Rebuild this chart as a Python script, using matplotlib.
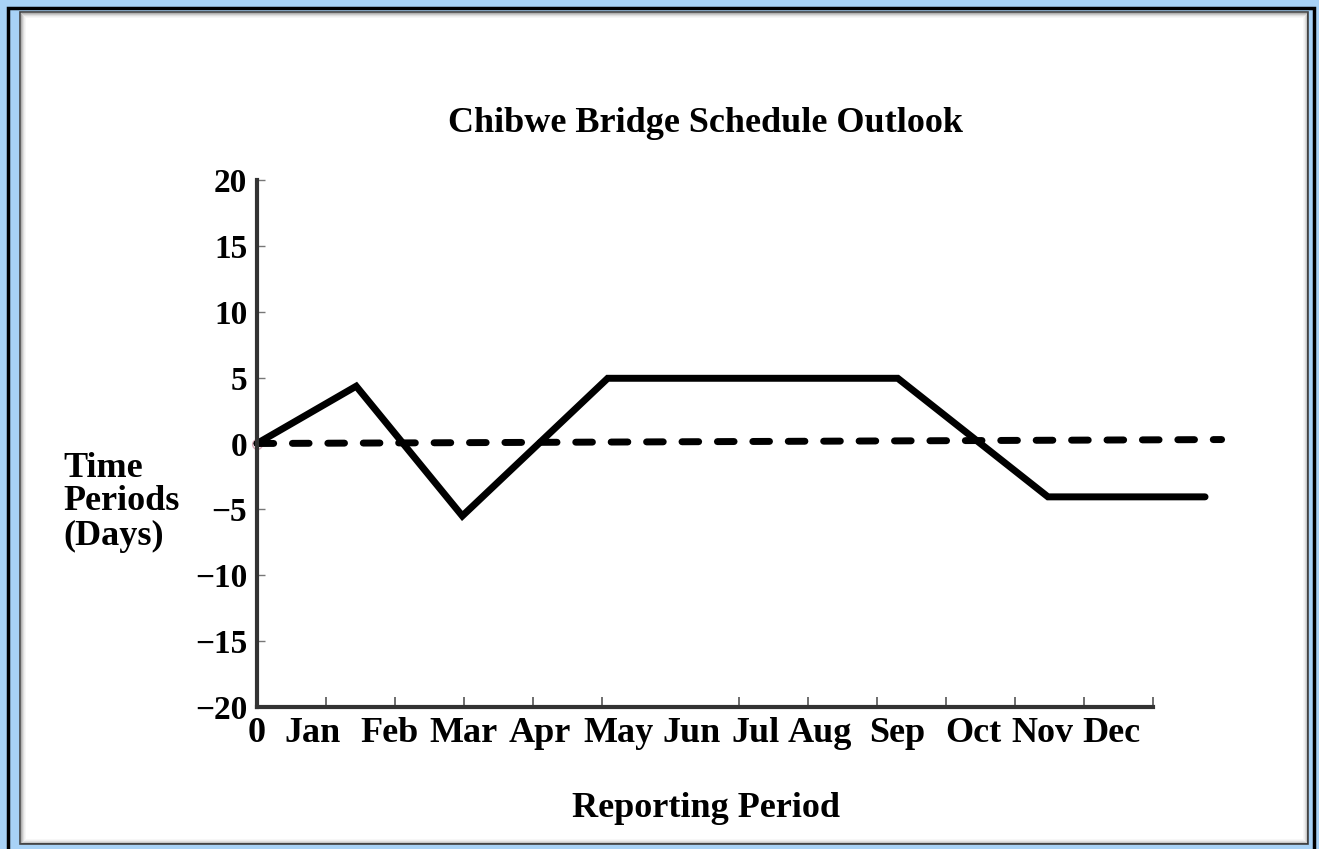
import numpy as np
import matplotlib.pyplot as plt
from matplotlib.patches import Rectangle

plt.rcParams['font.family'] = ['Liberation Serif', 'DejaVu Serif']
plt.rcParams['font.weight'] = 'bold'

# chart values
month_labels = ['0', 'Jan', 'Feb', 'Mar', 'Apr', 'May', 'Jun',
                'Jul', 'Aug', 'Sep', 'Oct', 'Nov', 'Dec']
actual_x = [0, 1.44, 2.98, 5.09, 9.30, 11.48, 13.76]
actual_y = [0, 4.35, -5.5, 4.95, 4.95, -4.05, -4.05]
plan_x = [0, 14.0]
plan_y = [0, 0.3]
y_ticks = [-20, -15, -10, -5, 0, 5, 10, 15, 20]
y_tick_labels = ['\u221220', '\u221215', '\u221210', '\u22125', '0', '5', '10', '15', '20']

# label positions along the axis (layout, as drawn in the original)
label_pos = [0, 0.8, 1.93, 3.0, 4.1, 5.24, 6.3, 7.23, 8.17, 9.29, 10.4, 11.4, 12.4]
tick_marks = [1, 2, 3, 4, 5, 7, 8, 9, 10, 11, 12, 13]

W, H = 1319, 849
fig = plt.figure(figsize=(W / 100, H / 100), dpi=100, facecolor='#a8d2f6')


def box(x0, y0, x1, y1, **kw):
    # pixel box measured from the top-left corner
    return Rectangle((x0 / W, 1 - y1 / H), (x1 - x0) / W, (y1 - y0) / H,
                     transform=fig.transFigure, zorder=-10, **kw)


# window-like frame
fig.patches.append(box(8, 8.5, 1313.5, 870, fill=False, edgecolor='black', linewidth=2.5))
fig.patches.append(box(20, 12, 1308, 844, facecolor='white', edgecolor='#444444', linewidth=1.2))
for i, a in enumerate([0.30, 0.2, 0.12, 0.06, 0.03]):
    fig.patches.append(box(21 + i, 13 + i, 1307 - i, 843 - i, fill=False,
                           edgecolor='black', alpha=a, linewidth=0.75))

px_per_unit = 68.9
ax = fig.add_axes([257 / W, 1 - 707 / H, (1242 - 257) / W, 527 / H])
ax.set_zorder(5)
ax.set_facecolor('none')
ax.set_xlim(0, (1242 - 257) / px_per_unit)
ax.set_ylim(-20, 20)

for s in ['top', 'right']:
    ax.spines[s].set_visible(False)
for s in ['left', 'bottom']:
    ax.spines[s].set_linewidth(3)
    ax.spines[s].set_color('#333333')
ax.spines['bottom'].set_bounds(0, 13)

ax.set_yticks(y_ticks, y_tick_labels)
ax.tick_params(axis='y', direction='in', length=6, width=1, color='#777777',
               labelsize=24, pad=7)

ax.xaxis.remove_overlapping_locs = False
ax.set_xticks(label_pos, month_labels)
ax.set_xticks(tick_marks, minor=True)
ax.tick_params(axis='x', which='major', length=0, labelsize=26, pad=7)
ax.tick_params(axis='x', which='minor', direction='in', length=7, width=1.2, color='#555555')

ax.plot(plan_x, plan_y, color='black', linewidth=5, dashes=(2.4, 2.7),
        dash_capstyle='round', clip_on=False)
ax.plot(actual_x, actual_y, color='black', linewidth=5, solid_capstyle='round',
        solid_joinstyle='miter', clip_on=False)
ax.plot([0], [0], marker='o', markersize=7, markerfacecolor='none',
        markeredgecolor='#d8a8b8', markeredgewidth=1, clip_on=False, zorder=1)

fig.text(706 / W, 1 - 132 / H, 'Chibwe Bridge Schedule Outlook', ha='center',
         va='baseline', fontsize=26)
fig.text(706 / W, 1 - 817 / H, 'Reporting Period', ha='center', va='baseline', fontsize=26)
for txt, base in [('Time', 477), ('Periods', 510), ('(Days)', 545)]:
    fig.text(63 / W, 1 - base / H, txt, ha='left', va='baseline', fontsize=26)

fig.savefig('out.png', dpi=100, facecolor=fig.get_facecolor())
